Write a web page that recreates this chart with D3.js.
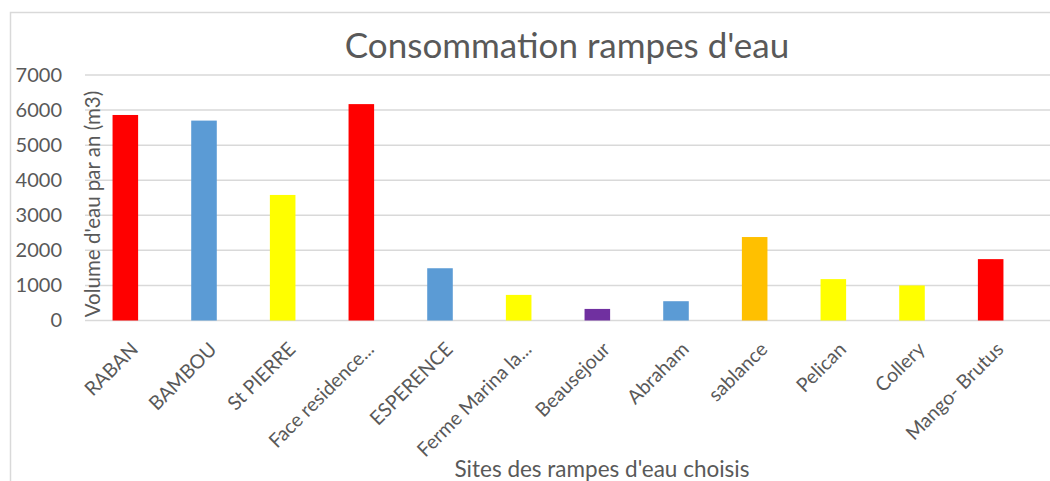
<!DOCTYPE html>
<html>
<head>
<meta charset="utf-8">
<script src="https://cdn.jsdelivr.net/npm/d3@7"></script>
<style>
  body { margin: 0; background: #fff; }
  svg text { font-family: Lato, "Open Sans", sans-serif; fill: #595959; }
</style>
</head>
<body>
<div id="visualization"></div>
<script>
// chart data
const sites = ["RABAN", "BAMBOU", "St PIERRE", "Face residence...", "ESPERENCE", "Ferme Marina la...",
    "Beausejour", "Abraham", "sablance", "Pelican", "Collery", "Mango- Brutus"];
const volumes = [5860, 5700, 3580, 6170, 1490, 730, 330, 550, 2380, 1180, 1000, 1750];
const barColors = ["#FF0000", "#5B9BD5", "#FFFF00", "#FF0000", "#5B9BD5", "#FFFF00",
    "#7030A0", "#5B9BD5", "#FFC000", "#FFFF00", "#FFFF00", "#FF0000"];
const yTicks = [0, 1000, 2000, 3000, 4000, 5000, 6000, 7000];

const data = sites.map((s, i) => ({ site: s, value: volumes[i], color: barColors[i] }));

const W = 1050, H = 481;
const svg = d3.select("#visualization")
    .append("svg")
    .attr("width", W)
    .attr("height", H);

// outer chart border (cropped on the right and bottom)
svg.append("rect")
    .attr("x", 10.5)
    .attr("y", 12.5)
    .attr("width", W + 10)
    .attr("height", H + 10)
    .attr("fill", "none")
    .attr("stroke", "#D9D9D9")
    .attr("stroke-width", 1.5);

const x = d3.scaleBand()
    .domain(sites)
    .range([86, 1030])
    .paddingInner(0.675)
    .paddingOuter(0.3375);

const y = d3.scaleLinear()
    .domain([0, 7000])
    .range([320.5, 75]);

// gridlines
svg.append("g")
    .selectAll("line")
    .data(yTicks)
    .join("line")
    .attr("x1", 85)
    .attr("x2", W)
    .attr("y1", d => y(d))
    .attr("y2", d => y(d))
    .attr("stroke", "#D9D9D9")
    .attr("stroke-width", 1.5);

// y axis tick labels
const yAxis = svg.append("g")
    .attr("transform", "translate(70,0)")
    .call(d3.axisLeft(y).tickValues(yTicks).tickSize(0).tickPadding(8).tickFormat(d3.format("d")));
yAxis.select(".domain").remove();
yAxis.selectAll("text")
    .style("font-size", "20px")
    .attr("fill", "#595959");

// bars
svg.append("g")
    .selectAll("rect")
    .data(data)
    .join("rect")
    .attr("x", d => x(d.site))
    .attr("width", x.bandwidth())
    .attr("y", d => y(d.value))
    .attr("height", d => y(0) - y(d.value))
    .attr("fill", d => d.color);

// x axis labels
const xAxis = svg.append("g")
    .attr("transform", `translate(0,${y(0)})`)
    .call(d3.axisBottom(x).tickSize(0).tickPadding(0));
xAxis.select(".domain").remove();
xAxis.selectAll("text")
    .style("font-size", "19.5px")
    .attr("fill", "#595959")
    .attr("text-anchor", "end")
    .attr("dy", null)
    .attr("y", 0)
    .attr("transform", "translate(14,30) rotate(-45)");

// title
svg.append("text")
    .attr("x", 567)
    .attr("y", 58)
    .attr("text-anchor", "middle")
    .style("font-size", "35px")
    .text("Consommation rampes d'eau");

// axis titles
svg.append("text")
    .attr("text-anchor", "middle")
    .attr("transform", "translate(100,204) rotate(-90)")
    .style("font-size", "20.5px")
    .text("Volume d'eau par an (m3)");

svg.append("text")
    .attr("text-anchor", "middle")
    .attr("x", 602)
    .attr("y", 477)
    .style("font-size", "22.5px")
    .text("Sites des rampes d'eau choisis");
</script>
</body>
</html>
